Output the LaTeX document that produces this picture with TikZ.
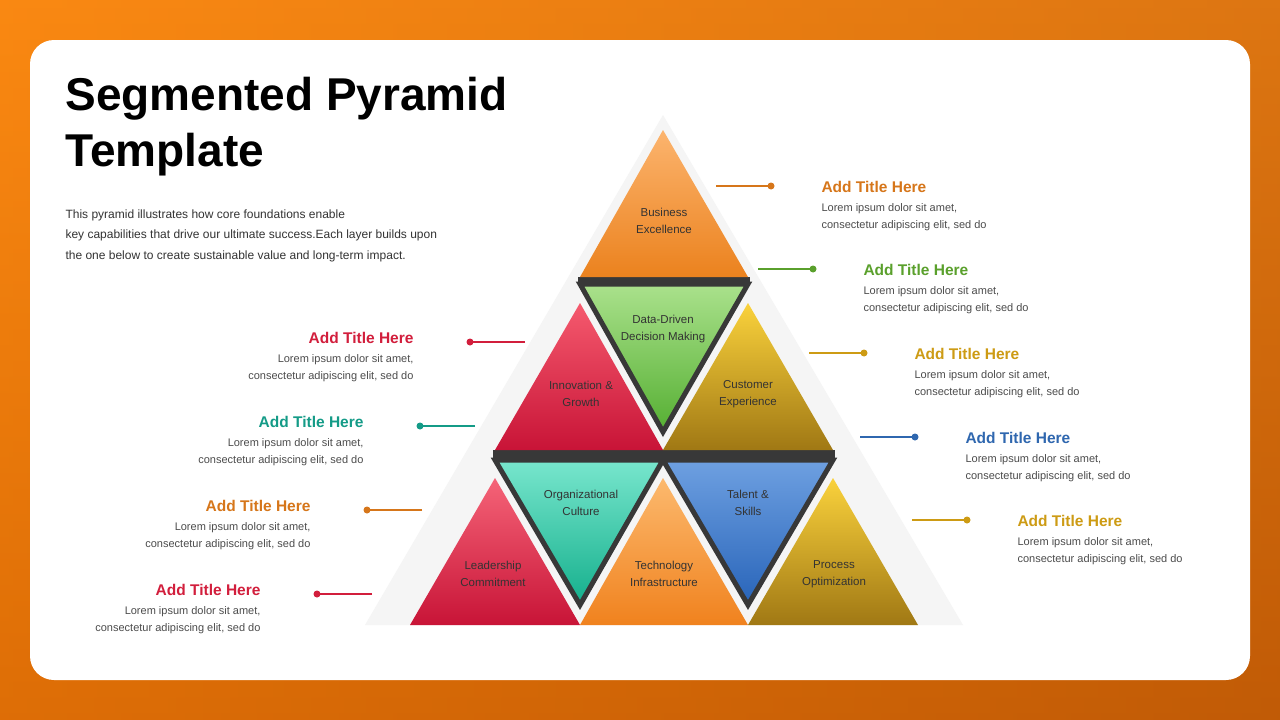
\documentclass[tikz,border=0pt]{standalone}
\usepackage{fontspec}
\setmainfont{Liberation Sans}
\begin{document}
\begin{tikzpicture}[x=1pt,y=-1pt,
  lab/.style={align=center,font=\fontsize{11.5}{17}\selectfont,text=black!80},
  ttl/.style={font=\fontsize{15.5}{18}\selectfont\bfseries},
  bod/.style={font=\fontsize{11}{17}\selectfont,text=black!70},
  dk/.style={draw=black!78,line width=5pt,line join=miter}]
\useasboundingbox (0,0) rectangle (1280,720);
\shade[left color=orange!85!yellow!90!red, right color=orange!70!black!95!red] (0,0) rectangle (1280,720);
\shade[top color={rgb,255:red,247;green,140;blue,30}, bottom color={rgb,255:red,200;green,95;blue,10}, opacity=0.6] (0,0) rectangle (1280,720);
\fill[white] (30,40) [rounded corners=24pt] rectangle (1250,680);
% faint big triangle
\fill[black!4] (365,625) -- (663,115) -- (963,625) -- cycle;
% dark backing strips
\fill[black!78] (578,277) -- (750,277) -- (750,286) -- (578,286) -- cycle;
\fill[black!78] (493,450) -- (835,450) -- (835,459) -- (493,459) -- cycle;
% top
\shade[top color={rgb,255:red,252;green,180;blue,110}, bottom color={rgb,255:red,235;green,130;blue,30}] (663,130) -- (748,277) -- (580,277) -- cycle;
\shade[left color=white!0, right color=black, opacity=0.0] (663,130) -- (748,277) -- (580,277) -- cycle;
% row 2
\shade[shading angle=135, top color={rgb,255:red,245;green,90;blue,110}, bottom color={rgb,255:red,200;green,20;blue,55}] (580,303) -- (663,450) -- (495,450) -- cycle;
\shade[shading angle=135, top color={rgb,255:red,250;green,210;blue,60}, bottom color={rgb,255:red,160;green,120;blue,20}] (748,303) -- (833,450) -- (663,450) -- cycle;
\shade[top color={rgb,255:red,170;green,225;blue,140}, bottom color={rgb,255:red,85;green,175;blue,50}] (580,284) -- (748,284) -- (663,432) -- cycle;
\draw[dk] (580,284) -- (748,284) -- (663,432) -- cycle;
% row 3
\shade[shading angle=135, top color={rgb,255:red,245;green,100;blue,120}, bottom color={rgb,255:red,200;green,20;blue,55}] (495,478) -- (580,625) -- (410,625) -- cycle;
\shade[top color={rgb,255:red,252;green,185;blue,110}, bottom color={rgb,255:red,240;green,130;blue,30}] (663,478) -- (748,625) -- (580,625) -- cycle;
\shade[shading angle=135, top color={rgb,255:red,250;green,210;blue,60}, bottom color={rgb,255:red,160;green,120;blue,20}] (833,478) -- (918,625) -- (748,625) -- cycle;
\shade[top color={rgb,255:red,120;green,230;blue,205}, bottom color={rgb,255:red,20;green,175;blue,140}] (495,460) -- (663,460) -- (580,605) -- cycle;
\draw[dk] (495,460) -- (663,460) -- (580,605) -- cycle;
\shade[top color={rgb,255:red,110;green,160;blue,225}, bottom color={rgb,255:red,40;green,100;blue,185}] (663,460) -- (833,460) -- (748,605) -- cycle;
\draw[dk] (663,460) -- (833,460) -- (748,605) -- cycle;
% labels
\node[lab] (l1) at (664,221) {Business\\Excellence};
\node[lab] (l2) at (663,329) {Data-Driven\\Decision Making};
\node[lab] (l3) at (581,394) {Innovation \&\\Growth};
\node[lab] (l4) at (748,394) {Customer\\Experience};
\node[lab] (l5) at (581,503) {Organizational\\Culture};
\node[lab] (l6) at (748,503) {Talent \&\\Skills};
\node[lab] (l7) at (493,574) {Leadership\\Commitment};
\node[lab] (l8) at (664,574) {Technology\\Infrastructure};
\node[lab] (l9) at (834,574) {Process\\Optimization};
% heading
\node[anchor=north west,align=left,font=\fontsize{46}{56}\selectfont\bfseries] (h) at (62,74) {Segmented Pyramid\\Template};
\node[anchor=north west,align=left,font=\fontsize{12}{20.5}\selectfont,text=black!80] (p) at (62,206) {This pyramid illustrates how core foundations enable\\key capabilities that drive our ultimate success.Each layer builds upon\\the one below to create sustainable value and long-term impact.};
% right callouts
\definecolor{cO}{RGB}{214,118,26}\definecolor{cG}{RGB}{90,160,44}\definecolor{cY}{RGB}{205,155,20}
\definecolor{cB}{RGB}{47,103,175}\definecolor{cR}{RGB}{210,30,60}\definecolor{cT}{RGB}{20,155,135}
\foreach \x/\y/\c [count=\i] in {716/186/cO,758/269/cG,809/353/cY,860/437/cB,912/520/cY}{
  \coordinate (ra\i) at (\x,\y); \coordinate (rb\i) at (\x+55,\y);
  \draw[\c,line width=1.5pt] (ra\i) -- (rb\i); \fill[\c] (rb\i) circle (3.5pt);
  \node[ttl,text=\c,anchor=west] (rt\i) at (\x+102,\y+1) {Add Title Here};
  \node[bod,anchor=north west,align=left] (rd\i) at (\x+102,\y+14) {Lorem ipsum dolor sit amet,\\consectetur adipiscing elit, sed do};
}
\foreach \x/\y/\c [count=\i] in {525/342/cR,475/426/cT,422/510/cO,372/594/cR}{
  \coordinate (la\i) at (\x,\y); \coordinate (lb\i) at (\x-55,\y);
  \draw[\c,line width=1.5pt] (la\i) -- (lb\i); \fill[\c] (lb\i) circle (3.5pt);
  \node[ttl,text=\c,anchor=east] (lt\i) at (\x-108,\y-4) {Add Title Here};
  \node[bod,anchor=north east,align=right] (ld\i) at (\x-108,\y+9) {Lorem ipsum dolor sit amet,\\consectetur adipiscing elit, sed do};
}
\end{tikzpicture}
\end{document}
